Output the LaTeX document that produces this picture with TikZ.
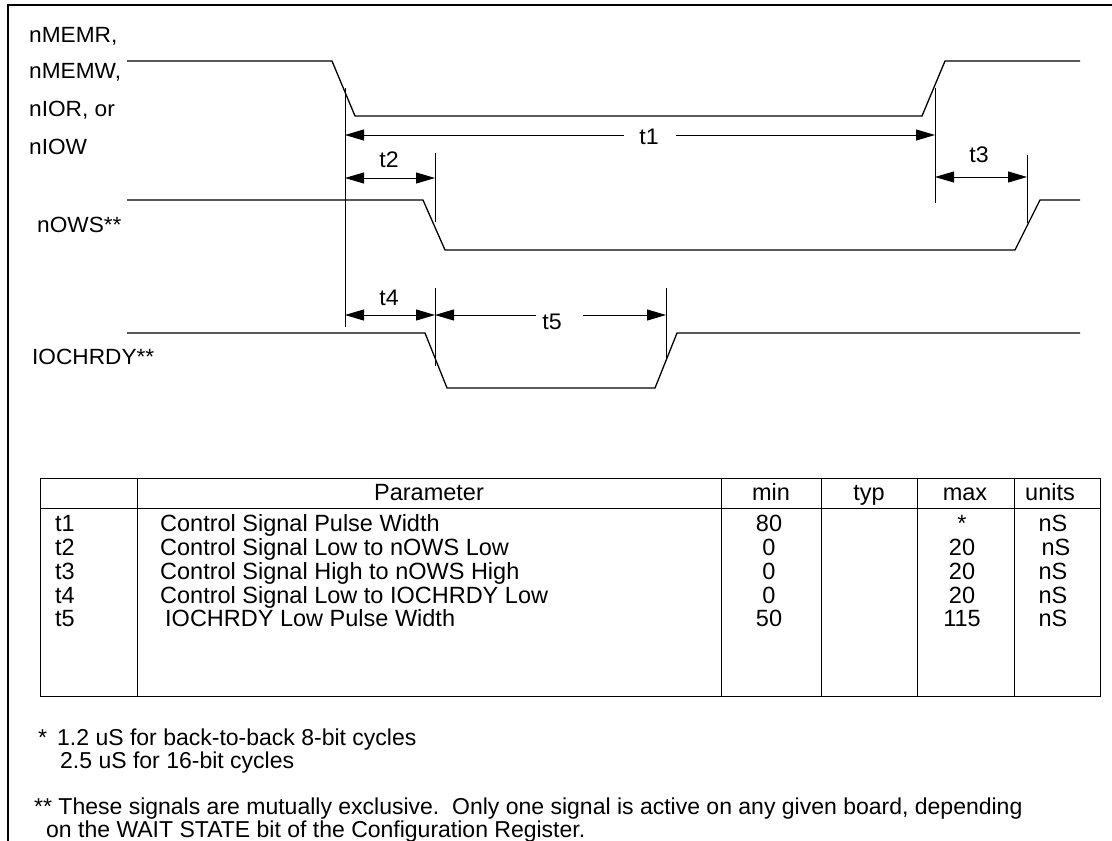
\documentclass[tikz,border=0pt]{standalone}
\usepackage{fontspec}
\setmainfont{Liberation Sans}
\newfontfamily\lblfont{Liberation Sans}[FakeStretch=1.03]
\newfontfamily\notefont{Liberation Sans}[FakeStretch=1.0]
\usetikzlibrary{arrows.meta}
\begin{document}
\begin{tikzpicture}[x=1pt,y=-1pt,
  sig/.style={line width=1.3pt},
  guide/.style={line width=1pt},
  dim/.style={line width=1pt,{Triangle[length=19pt,width=11pt]}-{Triangle[length=19pt,width=11pt]}},
  dimr/.style={line width=1pt,-{Triangle[length=19pt,width=11pt]}},
  diml/.style={line width=1pt,{Triangle[length=19pt,width=11pt]}-},
  lbl/.style={anchor=base west,inner sep=0pt,font=\lblfont\fontsize{22}{26}\selectfont},
  tl/.style={inner sep=0pt,font=\lblfont\fontsize{22.5}{26}\selectfont},
  cell/.style={anchor=base,inner sep=0pt,font=\fontsize{23.5}{27}\selectfont},
  cellw/.style={anchor=base west,inner sep=0pt,font=\fontsize{23.5}{27}\selectfont},
  note/.style={anchor=base west,inner sep=0pt,font=\notefont\fontsize{23}{26}\selectfont},
  tab/.style={line width=1pt}]
\useasboundingbox (0,0) rectangle (1112,841);
\fill[white] (0,0) rectangle (1112,841);
% frame
\draw[line width=2.5pt] (8,841) -- (8,5) -- (1112,5);

% signal labels
\node[lbl] (l1) at (29,42) {nMEMR,};
\node[lbl] (l2) at (29,78) {nMEMW,};
\node[lbl] (l3) at (29,116) {nIOR, or};
\node[lbl] (l4) at (29,154) {nIOW};
\node[lbl] (l5) at (37,232) {nOWS**};
\node[lbl] (l6) at (32,364) {IOCHRDY**};

% control signal
\draw[sig] (127,61) -- (332,61) -- (355,116) -- (922,116) -- (945,61) -- (1080,61);
% nOWS
\draw[sig] (127,200) -- (423,200) -- (445,250) -- (1015,250) -- (1040,200) -- (1080,200);
% IOCHRDY
\draw[sig] (127,333) -- (425,333) -- (447,388) -- (655,388) -- (677,333) -- (1080,333);

% guide coordinates
\coordinate (gA1) at (345,88);  \coordinate (gA2) at (345,327);
\coordinate (gB1) at (935,88);  \coordinate (gB2) at (935,203);
\coordinate (gC1) at (435,153); \coordinate (gC2) at (435,222);
\coordinate (gD1) at (1027,155);\coordinate (gD2) at (1027,223);
\coordinate (gE1) at (435,288); \coordinate (gE2) at (435,366);
\coordinate (gF1) at (666,288); \coordinate (gF2) at (666,360);
\draw[guide] (gA1) -- (gA2);
\draw[guide] (gB1) -- (gB2);
\draw[guide] (gC1) -- (gC2);
\draw[guide] (gD1) -- (gD2);
\draw[guide] (gE1) -- (gE2);
\draw[guide] (gF1) -- (gF2);

% t1
\coordinate (a1) at (345,135); \coordinate (b1) at (935,135);
\node[tl] (t1) at (649,137) {t1};
\draw[diml] (a1) -- (624,135);
\draw[dimr] (676,135) -- (b1);
% t2
\coordinate (a2) at (345,178); \coordinate (b2) at (435,178);
\draw[dim] (a2) -- (b2);
\node[tl] (t2) at (389,160) {t2};
% t3
\coordinate (a3) at (935,177); \coordinate (b3) at (1027,177);
\draw[dim] (a3) -- (b3);
\node[tl] (t3) at (979,155) {t3};
% t4
\coordinate (a4) at (345,315); \coordinate (b4) at (435,315);
\draw[dim] (a4) -- (b4);
\node[tl] (t4) at (389,298) {t4};
% t5
\coordinate (a5) at (435,315); \coordinate (b5) at (666,315);
\draw[diml] (a5) -- (536,315);
\draw[dimr] (583,315) -- (b5);
\node[tl] (t5) at (552,322) {t5};

% table
\draw[tab] (40,478) rectangle (1100,696);
\draw[tab] (40,508) -- (1100,508);
\foreach \x in {137,721,821,917,1014} \draw[tab] (\x,478) -- (\x,696);
\node[cell] (hP) at (429,500) {Parameter};
\node[cell] (hmin) at (771,500) {min};
\node[cell] (htyp) at (869,500) {typ};
\node[cell] (hmax) at (965,500) {max};
\node[cell] (hun) at (1050,500) {units};

\node[cellw] (r1) at (55,531) {t1};
\node[cellw] (r2) at (55,555) {t2};
\node[cellw] (r3) at (55,579) {t3};
\node[cellw] (r4) at (55,603) {t4};
\node[cellw] (r5) at (55,626) {t5};
\node[cellw] (p1) at (160,531) {Control Signal Pulse Width};
\node[cellw] (p2) at (160,555) {Control Signal Low to nOWS Low};
\node[cellw] (p3) at (160,579) {Control Signal High to nOWS High};
\node[cellw] (p4) at (160,603) {Control Signal Low to IOCHRDY Low};
\node[cellw] (p5) at (165,626) {IOCHRDY Low Pulse Width};
\node[cell] (m1) at (769,531) {80};
\node[cell] (m2) at (769,555) {0};
\node[cell] (m3) at (769,579) {0};
\node[cell] (m4) at (769,603) {0};
\node[cell] (m5) at (769,626) {50};
\node[cell] (x1) at (962,531) {*};
\node[cell] (x2) at (962,555) {20};
\node[cell] (x3) at (962,579) {20};
\node[cell] (x4) at (962,603) {20};
\node[cell] (x5) at (962,626) {115};
\node[cell] (u1) at (1053,531) {nS};
\node[cell] (u2) at (1056,555) {nS};
\node[cell] (u3) at (1053,579) {nS};
\node[cell] (u4) at (1053,603) {nS};
\node[cell] (u5) at (1053,626) {nS};

% notes
\node[note] (n0) at (38,745) {*};
\node[note] (n1) at (57,745) {1.2 uS for back-to-back 8-bit cycles};
\node[note] (n2) at (60,768) {2.5 uS for 16-bit cycles};
\node[note] (n3) at (34,814) {** These signals are mutually exclusive.\ \ Only one signal is active on any given board, depending};
\node[note] (n4) at (46,837) {on the WAIT STATE bit of the Configuration Register.};
\end{tikzpicture}
\end{document}
